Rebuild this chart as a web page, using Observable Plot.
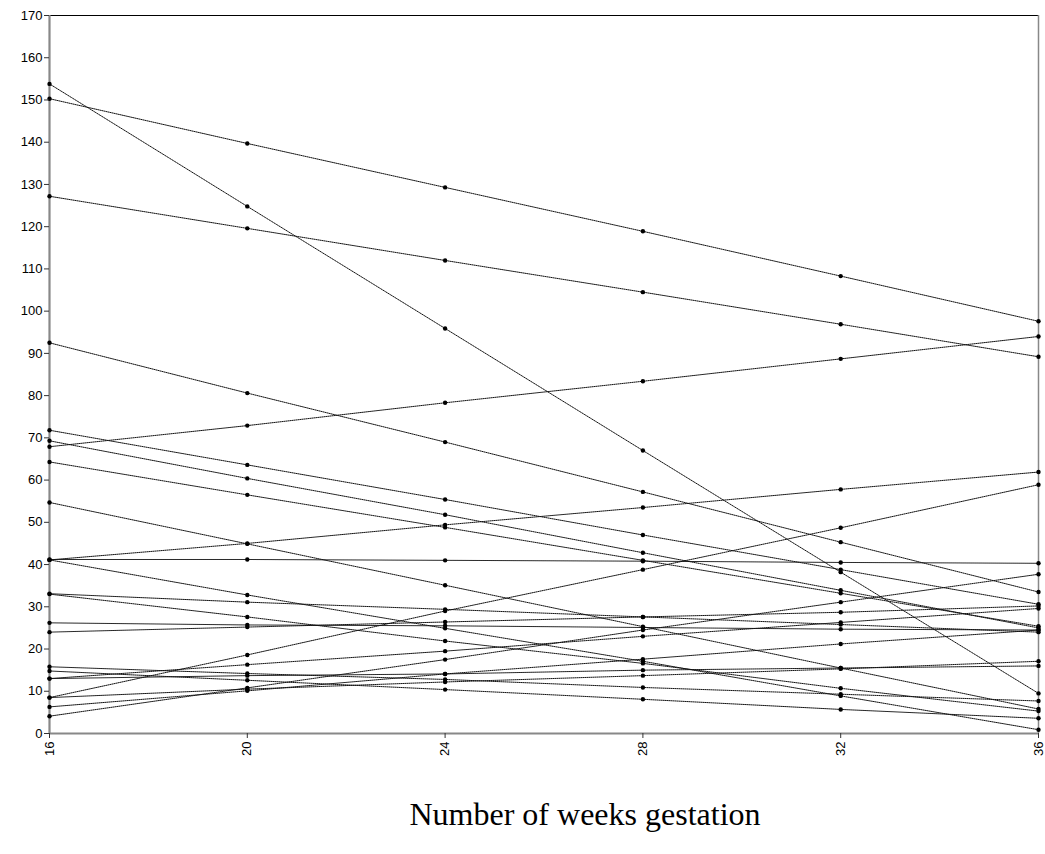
<!DOCTYPE html>
<html>
<head>
<meta charset="utf-8">
<script src="https://cdn.jsdelivr.net/npm/d3@7"></script>
<script src="https://cdn.jsdelivr.net/npm/@observablehq/plot@0.6"></script>
<style>
  body { margin: 0; background: #fff; }
</style>
</head>
<body>
<div id="chart"></div>
<script>
// Gestation weeks (x categories)
const weeks = [16, 20, 24, 28, 32, 36];
const yTicks = d3.range(0, 171, 10);
const xTitle = "Number of weeks gestation";

// One series per subject
const subject01 = [153.8, 124.8, 95.9, 67.0, 38.2, 9.5];
const subject02 = [150.3, 139.7, 129.3, 118.9, 108.3, 97.6];
const subject03 = [127.2, 119.6, 112.0, 104.5, 96.9, 89.2];
const subject04 = [92.5, 80.6, 69.0, 57.2, 45.3, 33.5];
const subject05 = [67.9, 72.9, 78.3, 83.4, 88.7, 94.0];
const subject06 = [71.8, 63.6, 55.4, 47.0, 38.8, 30.6];
const subject07 = [69.3, 60.4, 51.8, 42.8, 33.9, 25.0];
const subject08 = [64.3, 56.5, 48.8, 41.0, 33.2, 25.4];
const subject09 = [54.7, 44.9, 35.1, 25.3, 15.5, 5.8];
const subject10 = [41.1, 45.0, 49.4, 53.5, 57.8, 61.9];
const subject11 = [41.2, 41.2, 41.0, 40.8, 40.5, 40.3];
const subject12 = [41.1, 32.8, 24.9, 17.1, 8.9, 0.9];
const subject13 = [8.5, 18.6, 29.0, 38.8, 48.7, 58.9];
const subject14 = [33.1, 31.1, 29.4, 27.6, 25.8, 24.0];
const subject15 = [33.0, 27.6, 21.9, 16.6, 10.7, 5.3];
const subject16 = [26.2, 25.7, 25.5, 25.1, 24.7, 24.5];
const subject17 = [24.0, 25.2, 26.4, 27.6, 28.7, 30.2];
const subject18 = [13.0, 16.3, 19.5, 23.0, 26.3, 29.6];
const subject19 = [4.1, 10.8, 17.5, 24.5, 31.1, 37.7];
const subject20 = [6.3, 10.1, 14.1, 17.6, 21.2, 24.5];
const subject21 = [8.5, 10.5, 12.2, 13.7, 15.3, 17.1];
const subject22 = [13.0, 13.7, 14.1, 15.0, 15.5, 16.0];
const subject23 = [15.8, 14.2, 12.8, 10.9, 9.3, 7.7];
const subject24 = [14.8, 12.6, 10.4, 8.1, 5.7, 3.6];

const subjects = [subject01, subject02, subject03, subject04, subject05, subject06,
  subject07, subject08, subject09, subject10, subject11, subject12,
  subject13, subject14, subject15, subject16, subject17, subject18,
  subject19, subject20, subject21, subject22, subject23, subject24];

const data = subjects.flatMap((vals, i) =>
  vals.map((v, j) => ({id: i, week: weeks[j], value: v})));

const chart = Plot.plot({
  width: 1045,
  height: 854,
  marginTop: 15,
  marginLeft: 49,
  marginRight: 7,
  marginBottom: 121,
  style: {fontFamily: "'Liberation Sans', Arial, sans-serif", fontSize: "13px", color: "#000", background: "#fff"},
  x: {domain: [16, 36], label: null},
  y: {domain: [0, 170], label: null},
  marks: [
    Plot.ruleY([170], {stroke: "#000", strokeWidth: 1.2}),
    Plot.ruleX([36], {stroke: "#888", strokeWidth: 1.5}),
    Plot.ruleX([16], {stroke: "#888", strokeWidth: 2.2}),
    Plot.ruleY([0], {stroke: "#888", strokeWidth: 2.2}),
    Plot.line(data, {x: "week", y: "value", z: "id", stroke: "#111", strokeWidth: 1, strokeDasharray: "1,1"}),
    Plot.dot(data, {x: "week", y: "value", r: 2.2, fill: "#000", stroke: "none"}),
    Plot.axisY({ticks: yTicks, tickSize: 5, tickPadding: 2, fontSize: 13, stroke: "#333", label: null}),
    Plot.axisX({ticks: weeks, tickSize: 5, tickPadding: 3, tickRotate: -90, fontSize: 13, stroke: "#333", label: null}),
    Plot.text([xTitle], {frameAnchor: "bottom", dx: 41, dy: 91, fontSize: 32, fontFamily: "'Liberation Serif', 'Times New Roman', serif", fill: "#000"})
  ]
});
document.getElementById("chart").appendChild(chart);
</script>
</body>
</html>
